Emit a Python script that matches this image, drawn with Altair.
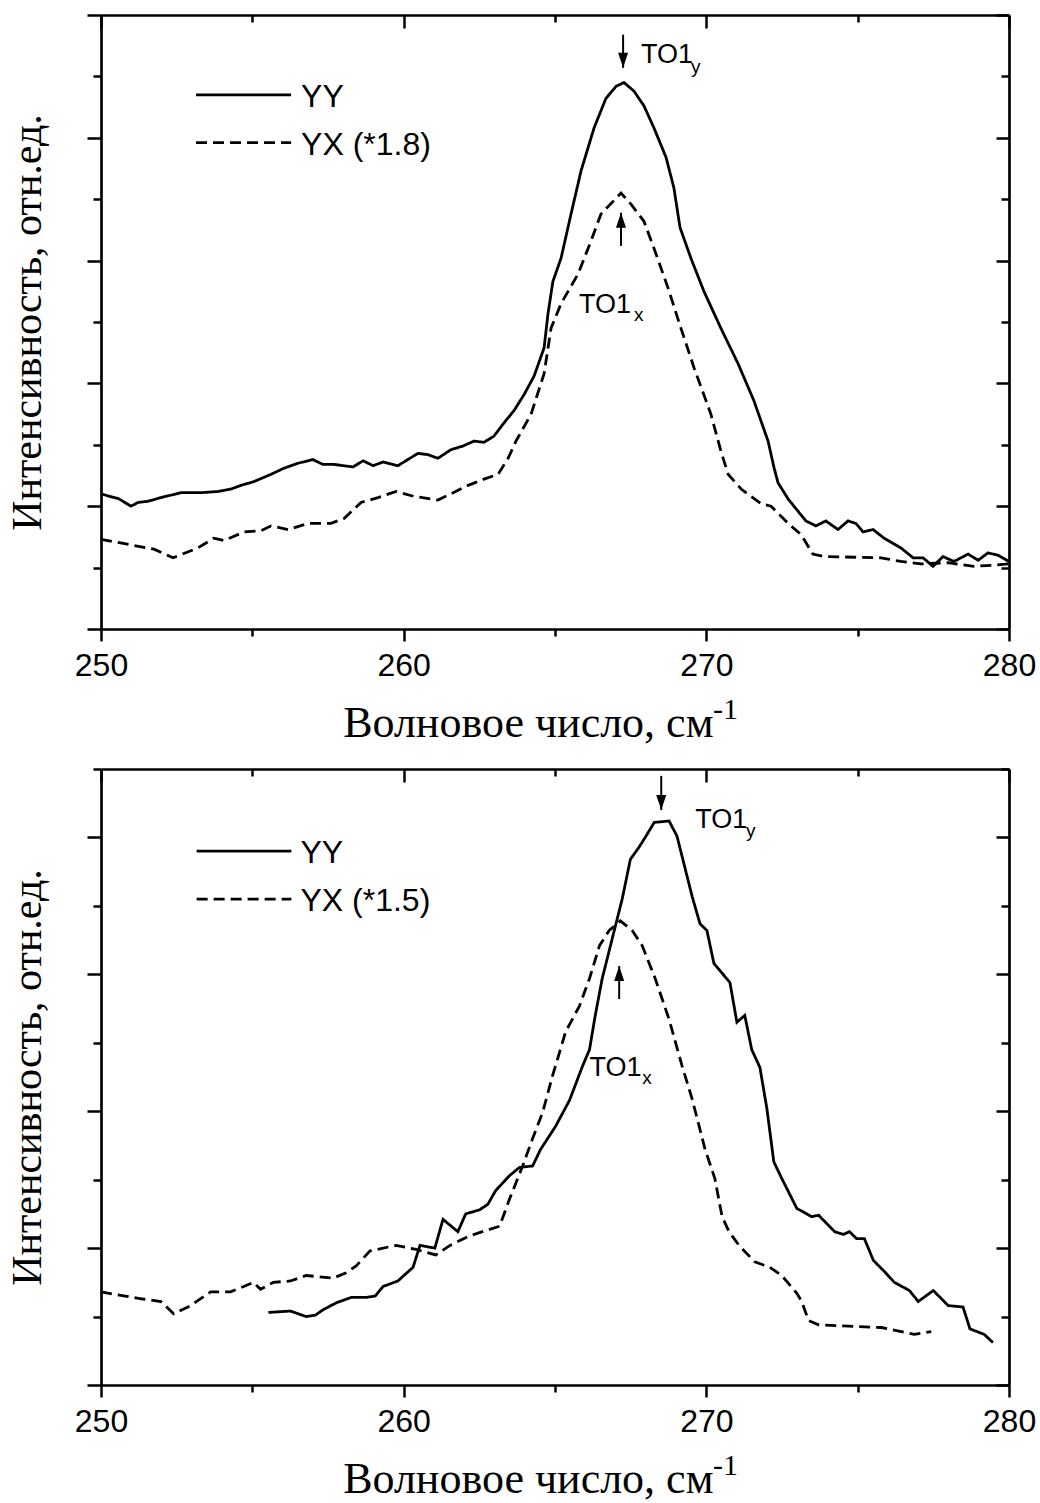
import altair as alt
import pandas as pd

# ---------------- top panel: YY and YX (*1.8) ----------------
top_yy_wn = [250.00, 250.59, 250.99, 251.22, 251.55, 251.98, 252.31, 252.64, 253.30, 253.87,
             254.30, 254.63, 255.05, 255.62, 256.05, 256.51, 257.00, 257.33, 257.70, 258.33,
             258.66, 258.99, 259.32, 259.81, 260.14, 260.47, 260.80, 261.13, 261.56, 261.96,
             262.32, 262.65, 262.98, 263.32, 263.65, 263.98, 264.31, 264.64, 264.77, 264.93,
             265.20, 265.53, 265.86, 266.29, 266.68, 267.02, 267.28, 267.61, 267.94, 268.27,
             268.67, 268.93, 269.13, 269.49, 269.92, 270.48, 271.05, 271.57, 272.04, 272.24,
             272.37, 272.70, 272.96, 273.29, 273.62, 273.95, 274.35, 274.68, 274.94, 275.18,
             275.51, 275.87, 276.43, 276.83, 277.16, 277.49, 277.82, 278.18, 278.65, 278.98,
             279.31, 279.64, 280.00]
top_yy_int = [1.10, 1.06, 1.00, 1.03, 1.04, 1.07, 1.09, 1.11, 1.11, 1.12,
              1.14, 1.17, 1.20, 1.26, 1.31, 1.35, 1.38, 1.34, 1.34, 1.32,
              1.37, 1.33, 1.36, 1.33, 1.38, 1.43, 1.42, 1.39, 1.46, 1.49,
              1.53, 1.52, 1.57, 1.68, 1.78, 1.91, 2.06, 2.29, 2.57, 2.83,
              3.02, 3.38, 3.73, 4.08, 4.32, 4.42, 4.45, 4.38, 4.26, 4.08,
              3.84, 3.59, 3.27, 3.02, 2.75, 2.45, 2.16, 1.86, 1.53, 1.31,
              1.19, 1.06, 0.98, 0.88, 0.84, 0.88, 0.81, 0.88, 0.86, 0.79,
              0.81, 0.74, 0.66, 0.58, 0.58, 0.51, 0.59, 0.55, 0.61, 0.56,
              0.62, 0.60, 0.55]
top_yx_wn = [250.00, 251.09, 251.75, 252.38, 253.20, 253.73, 254.06, 254.72, 255.29, 255.62,
             256.18, 256.84, 257.60, 258.03, 258.59, 259.15, 259.75, 260.34, 261.13, 261.56,
             262.13, 262.65, 263.12, 263.45, 263.71, 264.21, 264.64, 264.87, 265.20, 265.76,
             266.19, 266.52, 266.95, 267.18, 267.51, 267.94, 268.27, 268.73, 269.16, 269.59,
             270.15, 270.48, 270.72, 271.15, 271.81, 272.14, 272.70, 273.13, 273.52, 273.89,
             275.77, 276.43, 277.09, 277.98, 278.84, 279.50, 280.00]
top_yx_int = [0.73, 0.68, 0.65, 0.58, 0.66, 0.74, 0.72, 0.79, 0.80, 0.84,
              0.81, 0.86, 0.86, 0.90, 1.03, 1.07, 1.12, 1.08, 1.05, 1.10,
              1.17, 1.22, 1.26, 1.39, 1.53, 1.75, 2.08, 2.45, 2.65, 2.89,
              3.16, 3.38, 3.49, 3.55, 3.46, 3.32, 3.10, 2.78, 2.45, 2.13,
              1.75, 1.45, 1.26, 1.14, 1.02, 1.00, 0.86, 0.77, 0.61, 0.59,
              0.58, 0.55, 0.53, 0.54, 0.51, 0.52, 0.53]

# ---------------- bottom panel: YY and YX (*1.5) ----------------
bot_yy_wn = [255.53, 256.26, 256.78, 257.08, 257.34, 257.77, 258.27, 258.76, 259.06, 259.32,
             259.81, 260.31, 260.54, 261.03, 261.30, 261.79, 262.05, 262.51, 262.78, 263.04,
             263.50, 263.83, 264.26, 264.52, 265.02, 265.48, 265.91, 266.14, 266.33, 266.56,
             266.89, 267.22, 267.49, 267.78, 267.98, 268.28, 268.77, 269.03, 269.53, 269.79,
             270.02, 270.25, 270.78, 271.01, 271.27, 271.50, 271.77, 272.00, 272.23, 272.49,
             272.99, 273.48, 273.71, 274.24, 274.53, 274.73, 274.96, 275.22, 275.52, 275.88,
             276.21, 276.71, 277.00, 277.50, 277.99, 278.48, 278.71, 279.18, 279.47]
bot_yy_int = [0.53, 0.54, 0.50, 0.51, 0.55, 0.60, 0.64, 0.64, 0.65, 0.72,
              0.76, 0.86, 1.02, 1.00, 1.21, 1.12, 1.25, 1.28, 1.32, 1.42,
              1.53, 1.59, 1.60, 1.72, 1.89, 2.08, 2.33, 2.45, 2.70, 2.97,
              3.26, 3.55, 3.84, 3.93, 4.00, 4.11, 4.12, 4.01, 3.57, 3.37,
              3.32, 3.08, 2.94, 2.65, 2.70, 2.45, 2.32, 2.02, 1.63, 1.51,
              1.29, 1.23, 1.24, 1.12, 1.10, 1.12, 1.07, 1.07, 0.91, 0.83,
              0.75, 0.69, 0.61, 0.69, 0.58, 0.57, 0.41, 0.37, 0.31]
bot_yx_wn = [250.00, 251.32, 251.98, 252.40, 252.96, 253.62, 254.28, 255.04, 255.27, 255.70,
             256.26, 256.78, 257.67, 258.10, 258.43, 258.89, 259.75, 260.41, 261.06, 261.53,
             262.18, 263.17, 263.50, 263.93, 264.26, 264.59, 264.92, 265.15, 265.35, 265.81,
             266.14, 266.47, 266.79, 267.16, 267.55, 267.88, 268.31, 268.77, 269.20, 269.53,
             269.96, 270.28, 270.52, 270.75, 271.08, 271.60, 272.10, 272.49, 272.99, 273.15,
             273.38, 273.71, 274.70, 275.78, 276.44, 276.87, 277.43]
bot_yx_int = [0.68, 0.63, 0.61, 0.52, 0.58, 0.68, 0.68, 0.75, 0.70, 0.75,
              0.76, 0.80, 0.78, 0.82, 0.87, 0.98, 1.02, 0.99, 0.95, 1.02,
              1.09, 1.16, 1.36, 1.60, 1.80, 1.99, 2.26, 2.43, 2.58, 2.77,
              2.97, 3.21, 3.32, 3.39, 3.32, 3.21, 2.97, 2.67, 2.33, 2.09,
              1.72, 1.51, 1.23, 1.12, 1.02, 0.90, 0.86, 0.80, 0.67, 0.61,
              0.47, 0.44, 0.43, 0.42, 0.39, 0.37, 0.39]

# ---------------- axis ticks and texts ----------------
x_ticks = [250, 255, 260, 265, 270, 275, 280]
top_y_max = 5.0
bot_y_max = 4.5
x_title = "Волновое число, см"
x_title_sup = "-1"
y_title = "Интенсивность, отн.ед."
series_names = ["YY", "YX"]

# legends (in data units of each panel)
top_legend_labels = ["YY", "YX (*1.8)"]
top_legend_x = [253.14, 256.28, 256.61]   # line start, line end, text start
top_legend_y = [4.35, 3.96]
bot_legend_labels = ["YY", "YX (*1.5)"]
bot_legend_x = [253.16, 256.29, 256.59]
bot_legend_y = [3.90, 3.55]

# superscript of the x title (wavenumber, intensity below the axis)
top_sup_pos = [270.22, -0.73]
bot_sup_pos = [270.22, -0.66]

# annotations: arrows (x, tail, tip) and labels
top_arrow_x = [267.25, 267.18]
top_arrow_tail = [4.84, 3.12]
top_arrow_tip = [4.57, 3.39]
top_label_x = [267.84, 265.79]
top_label_y = [4.61, 2.57]
top_sub_x = [269.49, 267.61]
top_sub_y = [4.53, 2.51]

bot_arrow_x = [268.51, 267.12]
bot_arrow_tail = [4.45, 2.82]
bot_arrow_tip = [4.20, 3.06]
bot_label_x = [269.63, 266.14]
bot_label_y = [4.07, 2.26]
bot_sub_x = [271.31, 267.88]
bot_sub_y = [4.00, 2.20]

arrow_dirs = ["down", "up"]
label_texts = ["TO1", "TO1"]
sub_texts = ["y", "x"]

SANS = "Liberation Sans"
SERIF = "Liberation Serif"
TRI_DOWN = "M-0.67,-2L0.67,-2L0,0Z"
TRI_UP = "M-0.67,2L0.67,2L0,0Z"


def panel(yy_wn, yy_int, yx_wn, yx_int, y_max, leg_labels, leg_x, leg_y, sup_pos,
          arr_x, arr_tail, arr_tip, lab_x, lab_y, sub_x, sub_y, width, height):
    curves = pd.DataFrame({
        "wn": yy_wn + yx_wn,
        "val": yy_int + yx_int,
        "series": [series_names[0]] * len(yy_wn) + [series_names[1]] * len(yx_wn),
    })
    y_ticks = [i * 0.5 for i in range(int(round(y_max * 2)) + 1)]
    xs = alt.Scale(domain=[250, 280], nice=False, zero=False)
    ys = alt.Scale(domain=[0, y_max], nice=False, zero=False)
    dash = alt.Scale(domain=series_names, range=[[1, 0], [11, 6]])

    main = alt.Chart(curves).mark_line(color="black", strokeWidth=2.8).encode(
        x=alt.X("wn:Q", scale=xs, axis=alt.Axis(
            orient="bottom", values=x_ticks, title=x_title, grid=False,
            labelExpr="datum.value % 10 === 0 ? datum.label : ''",
            labelFlush=False, labelOverlap=False, labelPadding=9,
            tickSize=alt.ExprRef(expr="datum.value % 10 === 0 ? 12 : 7"),
            titlePadding=20, titleAlign="right", titleX=612)),
        y=alt.Y("val:Q", scale=ys, axis=alt.Axis(
            orient="left", values=y_ticks, labels=False, title=y_title, grid=False,
            tickSize=alt.ExprRef(expr="datum.value % 1 === 0 ? 14 : 8"),
            titlePadding=36, titleFontSize=42)),
        strokeDash=alt.StrokeDash("series:N", scale=dash, legend=None),
        detail="series:N",
    )
    mirror = alt.Chart(curves).mark_line(opacity=0).encode(
        x=alt.X("wn:Q", scale=xs, axis=alt.Axis(
            orient="top", values=x_ticks, labels=False, title=None, grid=False,
            tickSize=alt.ExprRef(expr="datum.value % 10 === 0 ? -13 : -7"))),
        y=alt.Y("val:Q", scale=ys, axis=alt.Axis(
            orient="right", values=y_ticks, labels=False, title=None, grid=False,
            tickSize=alt.ExprRef(expr="datum.value % 1 === 0 ? -13 : -8"))),
    )

    legend_df = pd.DataFrame({
        "x0": [leg_x[0]] * 2, "x1": [leg_x[1]] * 2, "xt": [leg_x[2]] * 2,
        "y": leg_y, "label": leg_labels, "series": series_names,
    })
    leg_lines = alt.Chart(legend_df).mark_rule(color="black", strokeWidth=2.8).encode(
        x=alt.X("x0:Q", scale=xs, axis=None), x2="x1:Q",
        y=alt.Y("y:Q", scale=ys, axis=None),
        strokeDash=alt.StrokeDash("series:N", scale=dash, legend=None),
    )
    leg_text = alt.Chart(legend_df).mark_text(
        font=SANS, fontSize=32, align="left", baseline="middle", color="black", dy=2
    ).encode(
        x=alt.X("xt:Q", scale=xs, axis=None),
        y=alt.Y("y:Q", scale=ys, axis=None),
        text="label:N",
    )

    sup_df = pd.DataFrame({"x": [sup_pos[0]], "y": [sup_pos[1]], "t": [x_title_sup]})
    sup = alt.Chart(sup_df).mark_text(
        font=SERIF, fontSize=30, align="left", baseline="alphabetic", color="black"
    ).encode(
        x=alt.X("x:Q", scale=xs, axis=None),
        y=alt.Y("y:Q", scale=ys, axis=None),
        text="t:N",
    )

    arrows_df = pd.DataFrame({"x": arr_x, "tail": arr_tail, "tip": arr_tip, "dir": arrow_dirs})
    shafts = alt.Chart(arrows_df).mark_rule(color="black", strokeWidth=2).encode(
        x=alt.X("x:Q", scale=xs, axis=None),
        y=alt.Y("tail:Q", scale=ys, axis=None), y2="tip:Q",
    )
    heads = alt.Chart(arrows_df).mark_point(
        filled=True, color="black", opacity=1, size=225, strokeWidth=0
    ).encode(
        x=alt.X("x:Q", scale=xs, axis=None),
        y=alt.Y("tip:Q", scale=ys, axis=None),
        shape=alt.Shape("dir:N", scale=alt.Scale(domain=arrow_dirs, range=[TRI_DOWN, TRI_UP]),
                        legend=None),
    )
    labels_df = pd.DataFrame({"x": lab_x, "y": lab_y, "t": label_texts})
    labels = alt.Chart(labels_df).mark_text(
        font=SANS, fontSize=27, align="left", baseline="alphabetic", color="black"
    ).encode(
        x=alt.X("x:Q", scale=xs, axis=None),
        y=alt.Y("y:Q", scale=ys, axis=None),
        text="t:N",
    )
    subs_df = pd.DataFrame({"x": sub_x, "y": sub_y, "t": sub_texts})
    subs = alt.Chart(subs_df).mark_text(
        font=SANS, fontSize=19, align="left", baseline="alphabetic", color="black"
    ).encode(
        x=alt.X("x:Q", scale=xs, axis=None),
        y=alt.Y("y:Q", scale=ys, axis=None),
        text="t:N",
    )
    return alt.layer(main, mirror, leg_lines, leg_text, sup, shafts, heads, labels, subs).resolve_axis(
        x="independent", y="independent"
    ).properties(width=width, height=height)


top = panel(top_yy_wn, top_yy_int, top_yx_wn, top_yx_int, top_y_max,
            top_legend_labels, top_legend_x, top_legend_y, top_sup_pos,
            top_arrow_x, top_arrow_tail, top_arrow_tip,
            top_label_x, top_label_y, top_sub_x, top_sub_y, 908, 614)
bottom = panel(bot_yy_wn, bot_yy_int, bot_yx_wn, bot_yx_int, bot_y_max,
               bot_legend_labels, bot_legend_x, bot_legend_y, bot_sup_pos,
               bot_arrow_x, bot_arrow_tail, bot_arrow_tip,
               bot_label_x, bot_label_y, bot_sub_x, bot_sub_y, 908, 616)

chart = alt.vconcat(top, bottom, spacing=22).properties(
    padding={"left": 6, "top": 13, "right": 0, "bottom": 0},
    background="white",
).configure_view(stroke=None).configure_axis(
    domainColor="black", domainWidth=2.7, tickColor="black", tickWidth=2.5,
    labelFont=SANS, labelFontSize=32, labelColor="black",
    titleFont=SERIF, titleFontSize=44, titleFontWeight="normal", titleColor="black",
)

chart.save("out.html", embed_options={"renderer": "svg", "actions": False})
